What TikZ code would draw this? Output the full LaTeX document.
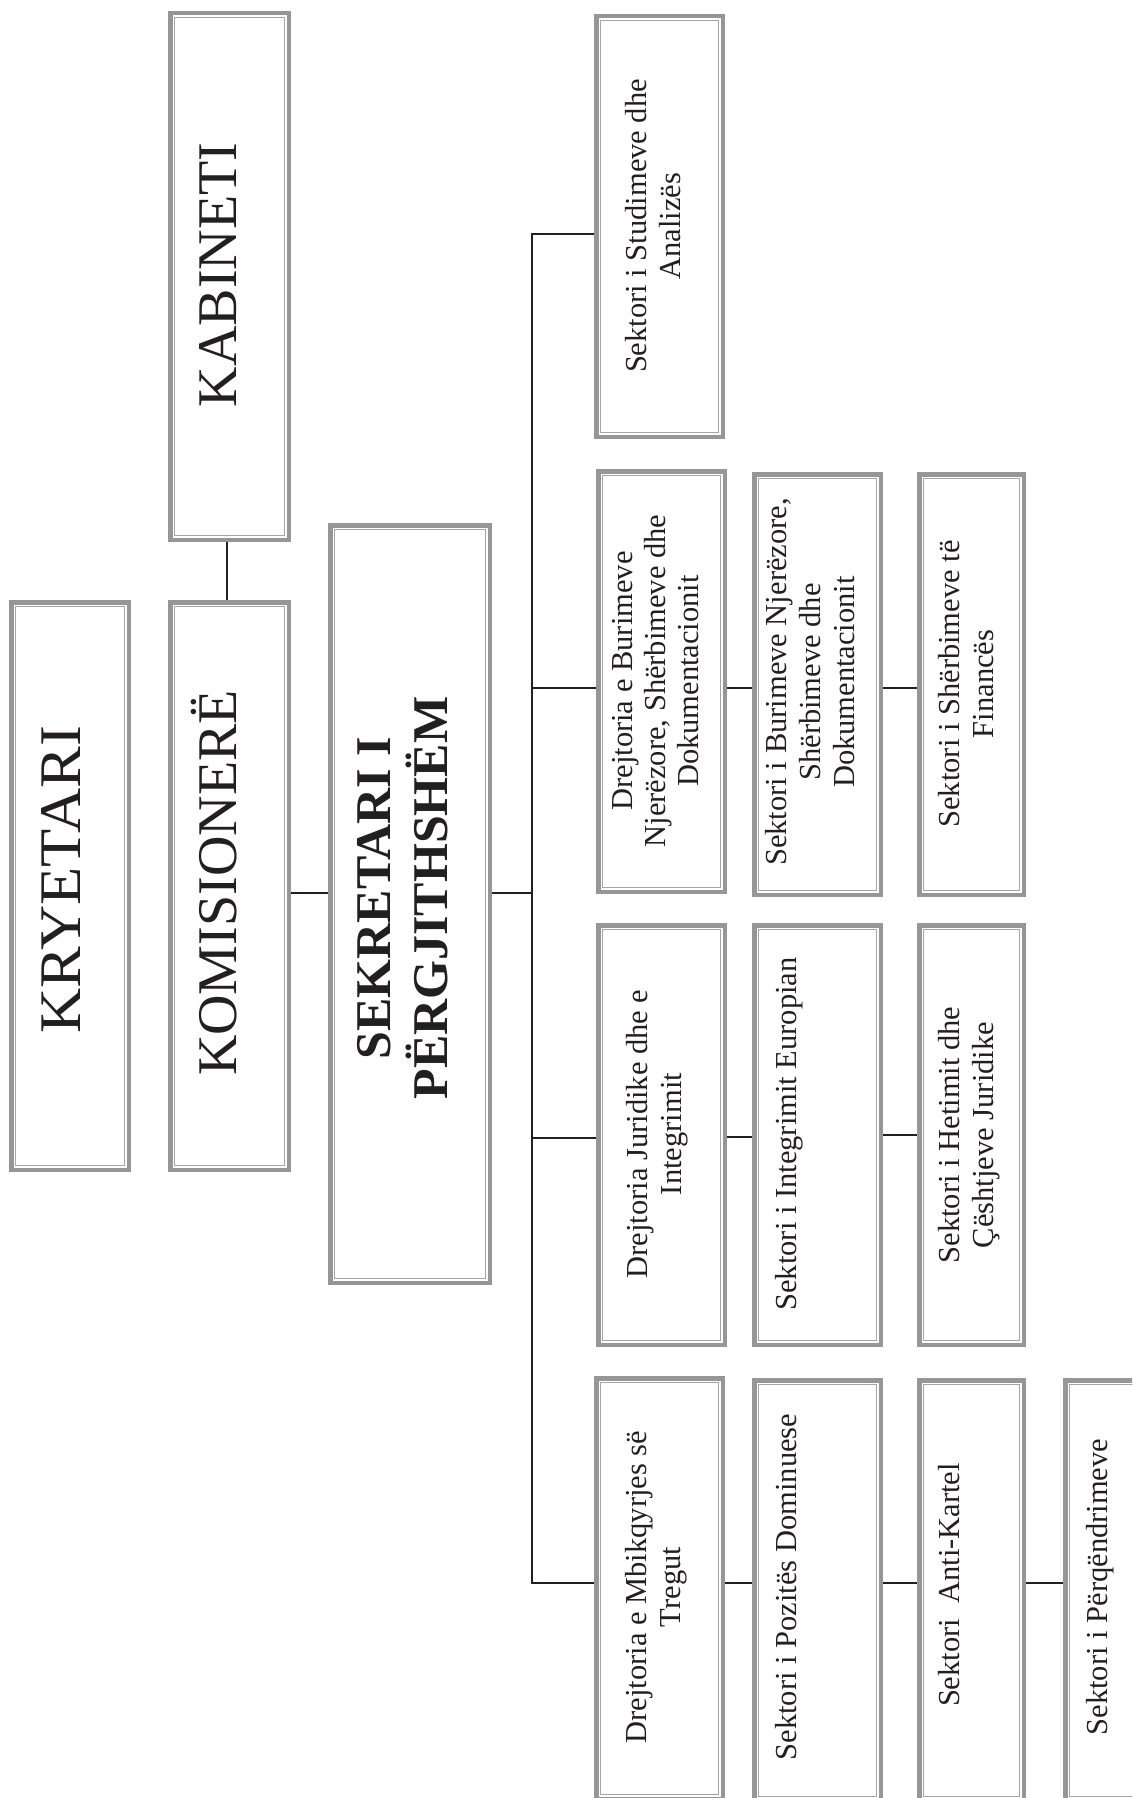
\documentclass[tikz,border=0pt]{standalone}
\usepackage{fontspec}
\setmainfont{Liberation Serif}
\usepackage{graphicx}
\usetikzlibrary{backgrounds}
\definecolor{boxgray}{RGB}{150,150,153}
\definecolor{innergray}{RGB}{165,165,168}
\definecolor{ink}{RGB}{35,31,32}
\tikzset{
  box/.style={draw=boxgray, line width=4.5pt, fill=white, inner sep=0pt, outer sep=0pt,
    path picture={\draw[innergray, line width=1.1pt]
      ([shift={(4.3pt,-4.3pt)}]path picture bounding box.north west) rectangle
      ([shift={(-4.3pt,4.3pt)}]path picture bounding box.south east);}},
  bx/.style 2 args={box, minimum width=#1pt, minimum height=#2pt},
  vtext/.style={rotate=90, inner sep=0pt, outer sep=0pt, text=ink},
  small/.style={vtext, font=\fontsize{30.5}{34}\selectfont},
  smallt/.style={vtext, font=\fontsize{30.5}{33}\selectfont},
  big/.style={vtext, font=\fontsize{#1}{70}\selectfont},
  conn/.style={draw=ink, line width=1.7pt},
}
\newcommand\tb[1]{\begin{tabular}{@{}c@{}}#1\end{tabular}}
\begin{document}
\begin{tikzpicture}[x=1pt, y=-1pt]
\useasboundingbox (0,0) rectangle (1132,1798);
\clip (0,0) rectangle (1132,1798);

% boxes
\node[bx={118.5}{526.5}] (kab) at (229.5,276.5) {};
\node[bx={117.5}{567.5}] (kry) at (70,886) {};
\node[bx={118.5}{567.5}] (kom) at (229.5,886) {};
\node[bx={159.5}{757.5}] (sek) at (410,904) {};

\node[bx={126.5}{420.5}] (stu) at (659.5,226.5) {};
\node[bx={126.5}{420.5}] (drb) at (661.5,681.5) {};
\node[bx={126.5}{419.5}] (drj) at (661.5,1135) {};
\node[bx={126.5}{420.5}] (drm) at (659.5,1588.5) {};

\node[bx={126.5}{420.5}] (skb) at (817.5,684.5) {};
\node[bx={126.5}{419.5}] (ski) at (817.5,1135) {};
\node[bx={126.5}{420.5}] (skp) at (817.5,1590.5) {};

\node[bx={104.5}{420.5}] (skf) at (971.5,684.5) {};
\node[bx={104.5}{419.5}] (skh) at (971.5,1135) {};
\node[bx={104.5}{420.5}] (ska) at (971.5,1590.5) {};

\node[bx={104.5}{420.5}] (skq) at (1117.5,1590.5) {};

% connectors
\coordinate (j0) at (532,893);
\coordinate (bt) at (532,234);
\coordinate (b2) at (532,688);
\coordinate (b3) at (532,1138);
\coordinate (bb) at (532,1583);
\begin{pgfonlayer}{background}
\fill[white] (0,0) rectangle (1132,1798);
\draw[conn] ([xshift=-2.5pt]kab.south) -- ([xshift=-2.5pt]kom.north);
\draw[conn] (kom.east |- j0) -- (sek.west |- j0);
\draw[conn] (sek.east |- j0) -- (j0);
\draw[conn] (stu.west |- bt) -- (bt) -- (bb) -- (drm.west |- bb);
\draw[conn] (b2) -- (drb.west |- b2);
\draw[conn] (b3) -- (drj.west |- b3);
\draw[conn] (drb.east |- b2) -- (skb.west |- b2);
\draw[conn] (skb.east |- b2) -- (skf.west |- b2);
\draw[conn] ([yshift=1pt]drj.east |- b3) -- ([yshift=1pt]ski.west |- b3);
\draw[conn] ([yshift=3pt]ski.east |- b3) -- ([yshift=3pt]skh.west |- b3);
\draw[conn] (drm.east |- bb) -- (skp.west |- bb);
\draw[conn] (skp.east |- bb) -- (ska.west |- bb);
\draw[conn] (ska.east |- bb) -- (skq.west |- bb);
\end{pgfonlayer}

% texts
\node[big=56] (tkab) at (222,275) {\tb{KABINETI}};
\node[big=59] (tkry) at (66,880) {\tb{\scalebox{1.06}[1]{KRYETARI}}};
\node[big=56] (tkom) at (222,883) {\tb{\smash{KOMISIONERË}}};
\node[vtext, font=\fontsize{50}{57}\selectfont\bfseries] (tsek) at (408,898)
  {\tb{SEKRETARI I\\\smash{PËRGJITHSHËM}}};

\node[small] (tstu) at (657,226) {\tb{Sektori i Studimeve dhe\\Analizës}};
\node[smallt] (tdrb) at (658.4,681) {\tb{Drejtoria e Burimeve\\Njerëzore,  Shërbimeve dhe\\Dokumentacionit}};
\node[small] (tskb) at (814,682) {\tb{Sektori i Burimeve Njerëzore,\\Shërbimeve dhe\\Dokumentacionit}};
\node[small] (tskf) at (970,684) {\tb{Sektori i Shërbimeve të\\Financës}};

\node[small] (tdrj) at (658,1134) {\tb{Drejtoria Juridike dhe e\\Integrimit}};
\node[small] (tski) at (790,1134) {\tb{Sektori i Integrimit Europian}};
\node[small] (tskh) at (970,1135) {\tb{Sektori i Hetimit dhe\\Çështjeve Juridike}};

\node[small] (tdrm) at (657,1587) {\tb{Drejtoria e Mbikqyrjes së\\Tregut}};
\node[small] (tskp) at (790,1587) {\tb{Sektori i Pozitës Dominuese}};
\node[small] (tska) at (953,1585) {\tb{Sektori\ \ Anti-Kartel}};
\node[small] (tskq) at (1101,1587) {\tb{Sektori i Përqëndrimeve}};
\end{tikzpicture}
\end{document}
